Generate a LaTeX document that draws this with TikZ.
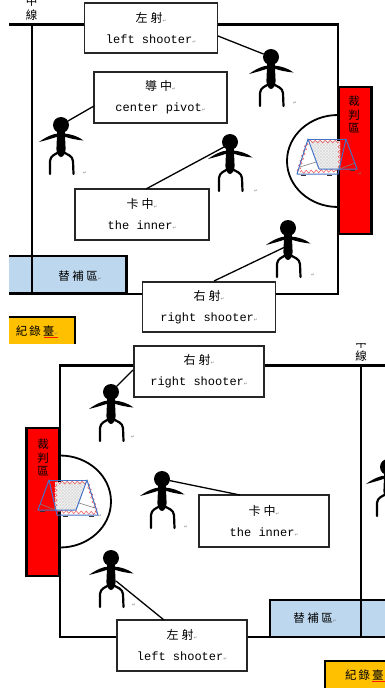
\documentclass[tikz,border=0pt]{standalone}
\usepackage{fontspec}
\setmainfont{Liberation Mono}
\newfontfamily\cjkf{Noto Sans CJK TC}
\newfontfamily\symf{DejaVu Sans}
\usetikzlibrary{patterns,decorations.pathmorphing}
\definecolor{subblue}{HTML}{BDD7EE}
\definecolor{tabley}{HTML}{FFC000}
\definecolor{netblue}{HTML}{4472C4}
\definecolor{netred}{HTML}{F05050}
\newcommand{\rmk}{{\symf\fontsize{4.5}{5}\selectfont\textcolor{gray}{↵}}}
\tikzset{
  x=1pt,y=-1pt,
  courtline/.style={line width=2.2pt,black},
  labelbox/.style={draw=black!85,line width=1.5pt,fill=white,align=center,inner sep=0pt,outer sep=0pt,
    font=\fontsize{12}{21}\selectfont},
  linkline/.style={line width=1.3pt,black},
  headdot/.style={circle,fill=black,minimum size=16pt,inner sep=0pt,outer sep=0pt},
  zone/.style={draw=black,line width=2.2pt,inner sep=0pt,outer sep=0pt},
  zonetext/.style={font=\cjkf\fontsize{11.5}{13.5}\selectfont,align=center,inner sep=0pt},
  retmark/.style={font=\symf\fontsize{4.5}{5}\selectfont,text=gray,inner sep=0pt},
  netframe/.style={draw=netblue,line width=1pt,line join=round},
  netzig/.style={draw=netred,line width=.5pt,decorate,decoration={zigzag,amplitude=1.5pt,segment length=5pt}}
}
\newcommand{\zh}[1]{{\cjkf #1}}
% name, x, y : stick figure with head node
\newcommand{\playerfig}[3]{%
  \begin{scope}[shift={(#2,#3)}]
    \node[headdot] (#1) at (0,0) {};
    \fill (-3.8,6) -- (-4.6,24) .. controls (-4.4,29) and (-2,32) .. (0,32) .. controls (2,32) and (4.4,29) .. (4.6,24) -- (3.8,6) -- cycle;
    \fill (-3,8.5) .. controls (-9,9) and (-16,12.5) .. (-22,17) .. controls (-16,15.5) and (-9,13.5) .. (-3,11.5) -- cycle;
    \fill (3,8.5) .. controls (9,9) and (17,11) .. (22.5,15.5) .. controls (16,15) and (9,13.5) .. (3,11.5) -- cycle;
    \draw[line width=2.2pt,line cap=round] (-2,27) .. controls (-6,29.5) and (-10.5,30.5) .. (-11,36) -- (-11,49);
    \draw[line width=2.2pt,line cap=round] (2,27) .. controls (6,29.5) and (11.5,30.5) .. (12,36) -- (12.5,49);
  \end{scope}}
% A-frame rebound net drawn in top-half coordinates
\newcommand{\netfig}{%
  \fill[gray!8] (310,141) -- (340,141) -- (340,170) -- (319,169) -- cycle;
  \fill[pattern=crosshatch,pattern color=gray!30] (310,141) -- (340,141) -- (340,170) -- (319,169) -- cycle;
  \draw[netzig] (309,141.5) -- (339,141.5);
  \draw[netzig] (307,143) -- (298,172);
  \draw[netzig] (300,172) -- (337,170.5);
  \draw[netzig] (339.5,143) -- (339.5,170);
  \draw[gray,line width=.6pt] (300,167) -- (316,162);
  \draw[gray,line width=.6pt] (337,170) -- (355,163);
  \fill[black!80] (301,174.5) rectangle (306,176);
  \fill[black!80] (327,174.5) rectangle (332,176);
  \fill[black!80] (350,169.5) rectangle (355,171);
  \draw[netframe] (297,174) -- (308,139) -- (319,169) -- (357,169) -- (346,139) -- (338,174) -- cycle;
  \draw[netframe] (308,139) -- (346,139);
}
\begin{document}
\begin{tikzpicture}
\useasboundingbox (0,0) rectangle (385,688);
\fill[white] (0,0) rectangle (385,688);

% ---------- upper half
\begin{scope}
\clip (9,0) rectangle (385,343);
\draw[courtline] (0,24.5) -- (338,24.5) -- (338,294) -- (0,294);
\draw[courtline] (32,25) -- (32,294);
\draw[line width=1.8pt] (338,115) arc[start angle=-90,end angle=-270,x radius=51,y radius=46];
\node[zone,fill=subblue,minimum width=122pt,minimum height=37pt] (subA) at (65.5,274.5) {};
\node[zonetext] (subAt) at (80,276) {替\hspace{2.5pt}補\hspace{2.5pt}區\rmk};
\draw[line width=2.4pt] (32,256) -- (32,294);
\node[zone,fill=red,minimum width=33pt,minimum height=147pt,anchor=north west] (refA) at (338.5,87) {};
\node[zonetext,anchor=north] (refAt) at (354,96) {裁\\判\\區};
\node[zone,fill=tabley,minimum width=70pt,minimum height=30pt,anchor=north west] (tabA) at (5,317) {};
\node[zonetext] (tabAt) at (37,331) {紀\hspace{2pt}錄\hspace{2pt}臺\rmk};
\draw[red!80!orange,line width=.5pt] (44,337.5) -- (58,337.5);
\node[zonetext] (midA) at (31.5,8) {中\\線};
\playerfig{pa}{271}{57}
\playerfig{pb}{61}{125}
\playerfig{pc}{230}{142}
\playerfig{pd}{288}{228}
\node[labelbox,minimum width=133pt,minimum height=50pt] (lsA) at (151,28) {\zh{左\hspace{3pt}射}\rmk\\left shooter\rmk};
\node[labelbox,minimum width=133pt,minimum height=51pt] (cp) at (160.5,97.5) {\zh{導\hspace{3pt}中}\rmk\\center pivot\rmk};
\node[labelbox,minimum width=134pt,minimum height=51pt] (inA) at (142,214.5) {\zh{卡\hspace{3pt}中}\rmk\\the inner\rmk};
\node[labelbox,minimum width=133pt,minimum height=50pt] (rsA) at (209,307) {\zh{右\hspace{3pt}射}\rmk\\right shooter\rmk};
\coordinate (lsAe) at (218,36);
\coordinate (cpe) at (94,106);
\coordinate (inAe) at (146,189);
\coordinate (inAh) at (224,147);
\coordinate (rsAe) at (214,281);
\coordinate (rsAh) at (285,247);
\draw[linkline] (lsAe) -- (pa);
\draw[linkline] (cpe) -- (pb);
\draw[linkline] (inAe) -- (inAh);
\draw[linkline] (rsAe) -- (rsAh);
\node[retmark] (m1) at (295,103) {↵};
\node[retmark] (m2) at (85,173) {↵};
\node[retmark] (m3) at (256,191) {↵};
\node[retmark] (m4) at (313,275) {↵};
\node[retmark] (m5) at (360,174) {↵};
\end{scope}

\netfig

% ---------- lower half
\begin{scope}
\clip (0,343) rectangle (385,688);
\draw[courtline] (385,365.5) -- (60,365.5) -- (60,637) -- (385,637);
\draw[courtline] (361,366) -- (361,637);
\draw[line width=1.8pt] (60,455.5) arc[start angle=-90,end angle=90,x radius=51,y radius=46];
\node[zone,fill=subblue,minimum width=125pt,minimum height=37pt] (subB) at (332.5,618.5) {};
\node[zonetext] (subBt) at (315,618) {替\hspace{2.5pt}補\hspace{2.5pt}區\rmk};
\draw[line width=2.4pt] (361,600) -- (361,637);
\node[zone,fill=red,minimum width=33pt,minimum height=148pt,anchor=north west] (refB) at (26.5,428) {};
\node[zonetext,anchor=north] (refBt) at (43,439) {裁\\判\\區};
\node[zone,fill=tabley,minimum width=70pt,minimum height=30pt,anchor=north west] (tabB) at (325,661) {};
\node[zonetext,anchor=west] (tabBt) at (345,675) {紀\hspace{2pt}錄\hspace{2pt}臺};
\draw[red!80!orange,line width=.5pt] (372,681.5) -- (385,681.5);
\node[zonetext] (midB) at (361,349.5) {中\\線};
\playerfig{pe}{111}{392}
\playerfig{pf}{162}{479}
\playerfig{pg}{111}{558}
\playerfig{ph}{388}{467}
\node[labelbox,minimum width=130pt,minimum height=51pt] (rsB) at (199,371.5) {\zh{右\hspace{3pt}射}\rmk\\right shooter\rmk};
\node[labelbox,minimum width=130pt,minimum height=52pt] (inB) at (264,521) {\zh{卡\hspace{3pt}中}\rmk\\the inner\rmk};
\node[labelbox,minimum width=130pt,minimum height=51pt] (lsB) at (182,645.5) {\zh{左\hspace{3pt}射}\rmk\\left shooter\rmk};
\coordinate (rsBe) at (133,370);
\coordinate (inBe) at (240,495);
\coordinate (lsBe) at (164,620);
\coordinate (lsBh) at (116,581);
\draw[linkline] (rsBe) -- (pe);
\draw[linkline] (inBe) -- (pf);
\draw[linkline] (lsBe) -- (lsBh);
\node[retmark] (m6) at (133,437) {↵};
\node[retmark] (m7) at (186,527) {↵};
\node[retmark] (m8) at (134,605) {↵};
\node[retmark] (m9) at (100,516) {↵};
\begin{scope}[shift={(395,341)},xscale=-1]
\netfig
\end{scope}
\end{scope}
\end{tikzpicture}
\end{document}
